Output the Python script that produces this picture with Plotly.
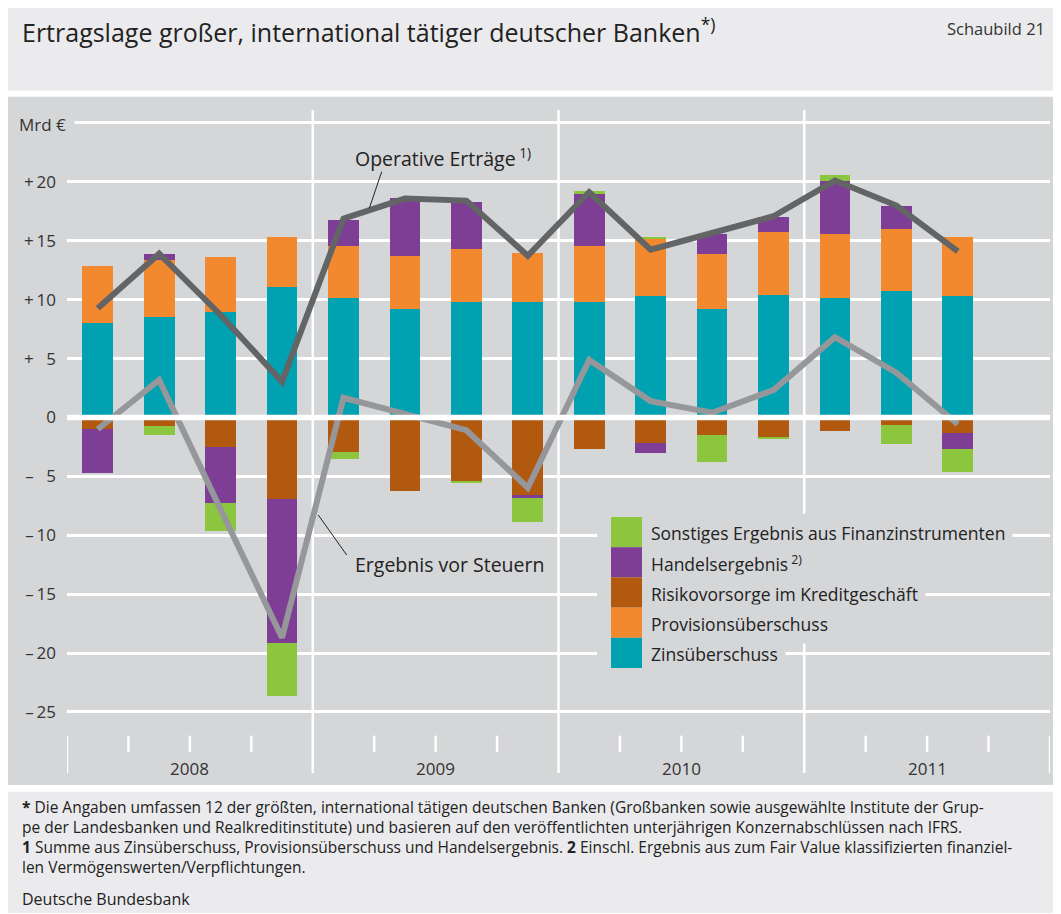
import plotly.graph_objects as go

# ---------------- data ----------------
quarters = ["2008 Q1", "2008 Q2", "2008 Q3", "2008 Q4",
            "2009 Q1", "2009 Q2", "2009 Q3", "2009 Q4",
            "2010 Q1", "2010 Q2", "2010 Q3", "2010 Q4",
            "2011 Q1", "2011 Q2", "2011 Q3"]
years = ["2008", "2009", "2010", "2011"]

zins = [8.06, 8.57, 8.96, 11.04, 10.18, 9.22, 9.79, 9.79, 9.79, 10.27, 9.19, 10.38, 10.10, 10.70, 10.35]
provision = [4.82, 4.82, 4.69, 4.31, 4.34, 4.51, 4.54, 4.20, 4.79, 4.88, 4.68, 5.39, 5.50, 5.27, 5.00]
risiko = [-1.02, -0.74, -2.50, -6.92, -2.92, -6.24, -5.39, -6.58, -2.70, -2.16, -1.53, -1.70, -1.16, -0.65, -1.30]
handel = [-3.66, 0.51, -4.76, -12.23, 2.22, 4.87, 3.94, -0.23, 4.40, -0.82, 1.70, 1.25, 4.46, 1.96, -1.34]
sonstiges = [0.0, -0.74, -2.41, -4.51, -0.60, 0.0, -0.17, -2.07, 0.22, 0.20, -2.24, -0.14, 0.54, -1.56, -2.01]

operative = [9.28, 13.90, 8.70, 3.04, 16.88, 18.58, 18.41, 13.73, 19.12, 14.24, 15.66, 17.08, 20.11, 17.99, 14.10]
ergebnis = [-1.00, 3.18, -7.80, -18.70, 1.67, 0.35, -1.08, -5.96, 4.88, 1.39, 0.40, 2.33, 6.81, 3.80, -0.57]

y_tickvals = [-25, -20, -15, -10, -5, 0, 5, 10, 15, 20, 25]
y_ticktext = ["\u2013\u200925", "\u2013\u200920", "\u2013\u200915", "\u2013\u200910", "\u2013\u2009\u20075",
              "0", "+\u2009\u20075", "+\u200910", "+\u200915", "+\u200920", " "]

legend_names = ["Sonstiges Ergebnis aus Finanzinstrumenten", "Handelsergebnis<sup> 2)</sup>",
                "Risikovorsorge im Kreditgeschäft", "Provisionsüberschuss", "Zinsüberschuss"]

title_text = "Ertragslage großer, international tätiger deutscher Banken<sup>*)</sup>"
footnotes = [
    "<b>*</b> Die Angaben umfassen 12 der größten, international tätigen deutschen Banken (Großbanken sowie ausgewählte Institute der Grup-",
    "pe der Landesbanken und Realkreditinstitute) und basieren auf den veröffentlichten unterjährigen Konzernabschlüssen nach IFRS.",
    "<b>1</b> Summe aus Zinsüberschuss, Provisionsüberschuss und Handelsergebnis. <b>2</b> Einschl. Ergebnis aus zum Fair Value klassifizierten finanziel-",
    "len Vermögenswerten/Verpflichtungen.",
]
source = "Deutsche Bundesbank"

# ---------------- styling ----------------
C_ZINS = "#00a1b0"
C_PROV = "#f3892f"
C_RISK = "#b0590f"
C_HAND = "#7e3e96"
C_SONS = "#8cc63e"
C_OPER = "#636466"
C_ERGB = "#96979a"
PANEL = "#d5d6d8"
LIGHT = "#ebebed"
TXT = "#222222"
FONT = "Open Sans, Noto Sans, DejaVu Sans, sans-serif"

# page offset (browser body margin) -> figure drawn at (8, 8) of the screen
OFF = 8
W, H = 1061 - OFF, 914 - OFF
# plot area in screen pixels
PL, PR, PT, PB = 67, 1050, 110, 773
L, T = PL - OFF, PT - OFF
R, B = W - (PR - OFF), H - (PB - OFF)
PW, PH = PR - PL, PB - PT
XR = [-0.5, 15.5]
YR = [-30.18, 26.10]


def px(xp):
    return (xp - PL) / PW


def py(yp):
    return (PB - yp) / PH


def dx(xp):
    return XR[0] + (xp - PL) / PW * (XR[1] - XR[0])


def dy(yp):
    return YR[1] - (yp - PT) / PH * (YR[1] - YR[0])


xs = list(range(len(quarters)))

fig = go.Figure()
for vals, col, name in [(zins, C_ZINS, "Zinsüberschuss"), (provision, C_PROV, "Provisionsüberschuss"),
                        (risiko, C_RISK, "Risikovorsorge im Kreditgeschäft"), (handel, C_HAND, "Handelsergebnis"),
                        (sonstiges, C_SONS, "Sonstiges Ergebnis aus Finanzinstrumenten")]:
    fig.add_trace(go.Bar(x=xs, y=vals, name=name, marker=dict(color=col, line=dict(width=0)),
                         width=0.5, showlegend=False, hoverinfo="skip"))

fig.add_trace(go.Scatter(x=xs, y=operative, mode="lines", line=dict(color=C_OPER, width=6),
                         showlegend=False, name="Operative Erträge"))
fig.add_trace(go.Scatter(x=xs, y=ergebnis, mode="lines", line=dict(color=C_ERGB, width=6),
                         showlegend=False, name="Ergebnis vor Steuern"))

shapes = []
# panels
for (x0, y0, x1, y1, c) in [(6.7, 5, 1061, 90.7, LIGHT), (6.7, 96.7, 1061, 785, PANEL), (6.7, 791.7, 1061, 913, LIGHT)]:
    shapes.append(dict(type="rect", xref="paper", yref="paper", x0=px(x0), x1=px(x1), y0=py(y0), y1=py(y1),
                       fillcolor=c, line=dict(width=0), layer="below"))
# year separators & ticks
nq = 4 * len(years)
for k in range(nq + 1):
    xv = XR[0] + k
    if k % 4 == 0:
        top = 1 if 0 < k < nq else py(735.7)
        shapes.append(dict(type="line", xref="x", yref="paper", x0=xv, x1=xv, y0=py(773), y1=top,
                           line=dict(color="white", width=2.5), layer="below"))
    else:
        shapes.append(dict(type="line", xref="x", yref="paper", x0=xv, x1=xv, y0=py(752), y1=py(735.7),
                           line=dict(color="white", width=2.5), layer="below"))
# zero line above bars
shapes.append(dict(type="line", xref="x", yref="y", x0=XR[0], x1=XR[1], y0=0, y1=0,
                   line=dict(color="white", width=5.5), layer="above"))
# leader lines
shapes.append(dict(type="line", xref="x", yref="y", x0=dx(381.7), y0=dy(171.7), x1=dx(369.3), y1=dy(208.3),
                   line=dict(color="#222", width=1), layer="above"))
shapes.append(dict(type="line", xref="x", yref="y", x0=dx(318.3), y0=dy(515), x1=dx(346.7), y1=dy(555),
                   line=dict(color="#222", width=1), layer="above"))
# legend
shapes.append(dict(type="rect", xref="paper", yref="paper", x0=px(597), x1=px(650), y0=py(510), y1=py(675),
                   fillcolor=PANEL, line=dict(width=0), layer="above"))
leg_cols = [C_SONS, C_HAND, C_RISK, C_PROV, C_ZINS]
row_h = 30.2
for i, c in enumerate(leg_cols):
    t0 = 517 + row_h * i
    shapes.append(dict(type="rect", xref="paper", yref="paper", x0=px(611), x1=px(642), y0=py(t0 + row_h), y1=py(t0),
                       fillcolor=c, line=dict(width=0), layer="above"))

ann = []
for i, name in enumerate(legend_names):
    ann.append(dict(xref="paper", yref="paper", x=px(643), y=py(517 + row_h * i + row_h / 2 + 1), xanchor="left",
                    yanchor="middle", text=name, showarrow=False, bgcolor=PANEL, borderpad=7,
                    font=dict(family=FONT, size=17.5, color=TXT)))
# series labels
ann.append(dict(xref="paper", yref="paper", x=px(353), y=py(158), xanchor="left", yanchor="middle",
                text="Operative Erträge<sup> 1)</sup>", showarrow=False, font=dict(family=FONT, size=19.5, color=TXT)))
ann.append(dict(xref="paper", yref="paper", x=px(353), y=py(564), xanchor="left", yanchor="middle",
                text="Ergebnis vor Steuern", showarrow=False, font=dict(family=FONT, size=19.5, color=TXT)))
# Mrd €
ann.append(dict(xref="paper", yref="paper", x=px(75), y=py(124), xanchor="right", yanchor="middle",
                text="Mrd €", showarrow=False, bgcolor=PANEL, borderpad=8,
                font=dict(family=FONT, size=17, color="#333")))
# year labels
for j, yr in enumerate(years):
    ann.append(dict(xref="x", yref="paper", x=XR[0] + 4 * j + 2, y=py(768), xanchor="center", yanchor="middle",
                    text=yr, showarrow=False, font=dict(family=FONT, size=17, color="#333")))
# title
ann.append(dict(xref="paper", yref="paper", x=px(20), y=py(31), xanchor="left", yanchor="middle",
                text=title_text, showarrow=False, font=dict(family=FONT, size=25, color=TXT)))
ann.append(dict(xref="paper", yref="paper", x=px(1047), y=py(28), xanchor="right", yanchor="middle",
                text="Schaubild 21", showarrow=False, font=dict(family=FONT, size=16.5, color="#333")))
# footnotes (one text block)
ann.append(dict(xref="paper", yref="paper", x=px(20), y=py(836.5), xanchor="left", yanchor="middle",
                align="left", text="<br>".join(footnotes), showarrow=False,
                font=dict(family=FONT, size=15.5, color=TXT)))
ann.append(dict(xref="paper", yref="paper", x=px(20), y=py(899), xanchor="left", yanchor="middle",
                text=source, showarrow=False, font=dict(family=FONT, size=16, color=TXT)))

fig.update_layout(
    width=W, height=H, margin=dict(l=L, r=R, t=T, b=B, autoexpand=False),
    paper_bgcolor="white", plot_bgcolor="rgba(0,0,0,0)",
    barmode="relative", bargap=0, showlegend=False,
    font=dict(family=FONT, size=17, color="#333"),
    xaxis=dict(range=XR, showgrid=False, zeroline=False, showticklabels=False, ticks="", showline=False,
               fixedrange=True),
    yaxis=dict(range=YR, tickvals=y_tickvals, ticktext=y_ticktext, showgrid=True, gridcolor="white",
               gridwidth=3, zeroline=False, showline=False, ticks="", ticklabelstandoff=10,
               tickfont=dict(family=FONT, size=17, color="#333"), fixedrange=True),
    shapes=shapes, annotations=ann,
)

fig.write_html("out.html")
